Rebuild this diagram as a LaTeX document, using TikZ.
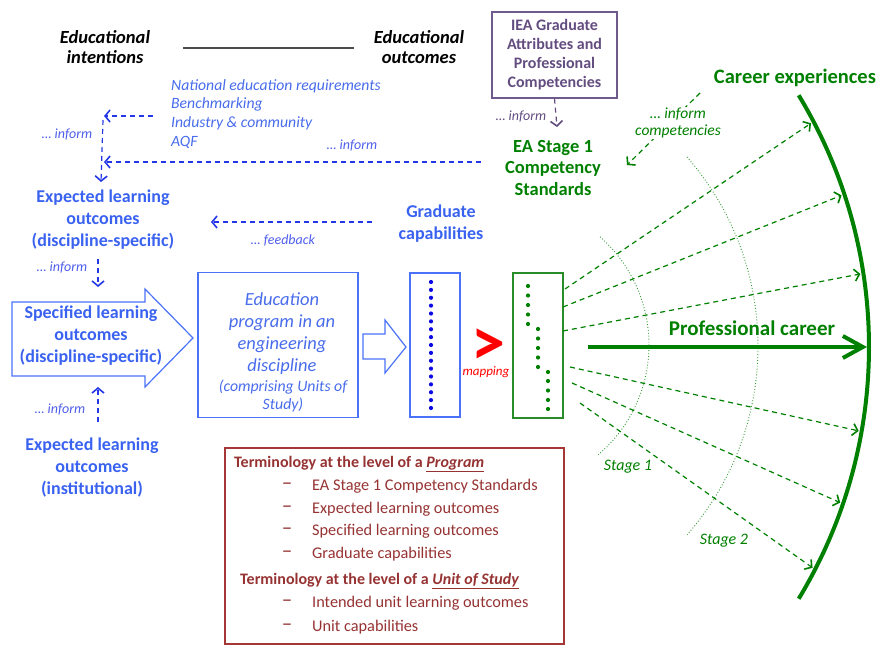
\documentclass[tikz,border=0pt]{standalone}
\usepackage{fontspec}
\setmainfont{Carlito}
\usetikzlibrary{arrows.meta}
\definecolor{tblue}{RGB}{58,98,240}
\definecolor{ablue}{RGB}{35,55,230}
\definecolor{lblue}{RGB}{72,108,235}
\definecolor{boxblue}{RGB}{75,115,250}
\definecolor{dotblue}{RGB}{10,10,225}
\definecolor{mgreen}{RGB}{0,128,0}
\definecolor{gbox}{RGB}{40,140,40}
\definecolor{ptext}{RGB}{98,76,128}
\definecolor{pbord}{RGB}{110,90,140}
\definecolor{tred}{RGB}{150,50,50}
\definecolor{tredb}{RGB}{165,55,55}
\newcommand\myfs[2]{\fontsize{#1}{#2}\selectfont}
\begin{document}
\begin{tikzpicture}[x=1pt,y=-1pt,
  hdr/.style={align=center,inner sep=0,font=\myfs{18.5}{20}\bfseries\itshape},
  btitle/.style={align=center,inner sep=0,text=tblue,font=\myfs{18}{22}\bfseries},
  blist/.style={anchor=west,inner sep=0,text=lblue,font=\myfs{15.7}{18}\itshape},
  binf/.style={inner sep=0,text=ablue!80!white,font=\myfs{14}{15}\itshape},
  bdash/.style={draw=ablue,line width=1.2pt,dash pattern=on 5pt off 4pt,-{Straight Barb[length=5pt,width=12pt,line width=1.6pt]}},
  gtitle/.style={align=center,inner sep=0,text=mgreen,font=\myfs{18.5}{21.5}\bfseries},
  ginf/.style={align=center,inner sep=0,text=mgreen,font=\myfs{15.5}{17}\itshape},
  gdash/.style={draw=mgreen,line width=1.2pt,dash pattern=on 5pt off 4pt,-{Straight Barb[length=5pt,width=12pt,line width=1.6pt]}},
  gdot/.style={draw=mgreen!80!white,line width=0.9pt,dotted},
  bshape/.style={draw=boxblue,line width=1.2pt,fill=white},
  termh/.style={anchor=west,inner sep=0,text=tred,font=\myfs{16}{18}\bfseries},
  termi/.style={anchor=west,inner sep=0,text=tred,font=\myfs{16.3}{18}},
  termd/.style={inner sep=0,text=tred,font=\myfs{21}{18}}
]
\useasboundingbox (0,0) rectangle (891,647);

% ---------- headers
\node[hdr] (ei) at (105,47) {Educational\\intentions};
\node[hdr] (eo) at (419,47) {Educational\\outcomes};
\coordinate (hl1) at (183,48);
\coordinate (hl2) at (354,48);
\draw[line width=1.5pt,draw=black!70] (hl1) -- (hl2);

% ---------- IEA box
\node[draw=pbord,line width=1.2pt,minimum width=125,minimum height=86,align=center,inner sep=0,
      text=ptext,font=\myfs{16}{19}\bfseries] (iea) at (554.5,55) {IEA Graduate\\Attributes and\\Professional\\Competencies};
\node[inner sep=0,text=ptext,font=\myfs{14}{15}\itshape] (pinf) at (521,117) {… inform};
\coordinate (pa) at (557,127);
\draw[draw=ptext,line width=1.2pt,dash pattern=on 5pt off 4pt,-{Straight Barb[length=5pt,width=12pt,line width=1.6pt]}] (iea.south) -- (pa);

% ---------- EA stage 1
\node[gtitle] (ea) at (553,168) {EA Stage 1\\Competency\\Standards};
\node[gtitle,font=\myfs{20.5}{22}\bfseries] (car) at (795,78) {Career experiences};

% inform competencies
\coordinate (ic1) at (700,93);
\coordinate (ic2) at (627,165);
\draw[gdash] (ic1) -- (ic2);
\node[ginf,fill=white,inner sep=1pt] (ic) at (678,123) {… inform\\competencies};

% ---------- blue list
\node[blist] (nat) at (171,86) {National education requirements};
\node[blist] (ben) at (171,104) {Benchmarking};
\node[blist] (ind) at (171,123) {Industry \& community};
\node[blist] (aqf) at (171,142) {AQF};

\coordinate (b1) at (153,116);
\coordinate (b2) at (104,116);
\coordinate (b2a) at (103,120);
\coordinate (b3) at (101,182);
\coordinate (b4) at (481,162);
\coordinate (b5) at (104,162);
\draw[bdash] (b1) -- (b2);
\draw[bdash] (b2a) -- (b3);
\draw[bdash] (b4) -- (b5);
\node[binf] (inf1) at (67,135) {… inform};
\node[binf] (inf2) at (352,146) {… inform};

% ---------- expected (discipline)
\node[btitle] (eld) at (103,220) {Expected learning\\outcomes\\(discipline-specific)};
\coordinate (d1) at (98,259);
\coordinate (d2) at (98,287);
\draw[bdash] (d1) -- (d2);
\node[binf] (inf3) at (62,268) {… inform};

% feedback
\coordinate (f1) at (372,222);
\coordinate (f2) at (211,222);
\draw[bdash] (f1) -- (f2);
\node[binf] (fb) at (283,240) {… feedback};
\node[btitle] (gcap) at (441,224) {Graduate\\capabilities};

% ---------- specified arrow
\draw[bshape] (12,302) -- (145,302) -- (145,289) -- (193,338) -- (145,387) -- (145,376) -- (12,376) -- cycle;
\node[btitle] (slo) at (91,336) {Specified learning\\outcomes\\(discipline-specific)};

% ---------- education program
\node[draw=boxblue,line width=1.2pt,minimum width=160,minimum height=145,inner sep=0] (ep) at (278,345) {};
\node[inner sep=0,align=center,text=lblue,font=\myfs{18.5}{22}\itshape] (ept1) at (282,334) {Education\\program in an\\engineering\\discipline};
\node[inner sep=0,align=center,text=lblue,font=\myfs{15.8}{18}\itshape] (ept2) at (283,396) {(comprising Units of\\Study)};

% small arrow
\draw[bshape] (363,334) -- (385,334) -- (385,320) -- (406,347) -- (385,373) -- (385,359) -- (363,359) -- cycle;

% ---------- blue column
\node[draw=boxblue,line width=1.2pt,minimum width=50,minimum height=144,inner sep=0] (bcol) at (435,345) {};
\foreach \i in {0,...,16} \fill[dotblue] (431,282+\i*7.875) circle (2.1pt);

% mapping
\node[inner sep=0,text=red,font=\myfs{68}{68}\bfseries] (gt) at (488,347) {>};
\node[inner sep=0,text=red,font=\myfs{13}{15}\itshape] (map) at (486,372) {mapping};

% ---------- green column
\node[draw=gbox,line width=1.2pt,minimum width=50,minimum height=145,inner sep=0] (gcol) at (538,345.5) {};
\foreach \y in {286,295.5,305,314.5,324} \fill[mgreen] (528,\y) circle (2.1pt);
\foreach \y in {329,338.5,348,357.5,367} \fill[mgreen] (538,\y) circle (2.1pt);
\foreach \y in {372,381,390.5,400,409} \fill[mgreen] (548,\y) circle (2.1pt);

% ---------- arcs
\coordinate (cbig) at (383,347);
\coordinate (cs1) at (505,345);
\coordinate (cs2) at (471,346);
\draw[gdot] (cs1) ++(48.7:144pt) arc[start angle=48.7,end angle=-49.6,radius=144pt];
\draw[gdot] (cs2) ++(41.2:287pt) arc[start angle=41.2,end angle=-41.1,radius=287pt];
\draw[mgreen,line width=4pt] (cbig) ++(31.2:486pt) arc[start angle=31.2,end angle=-31.2,radius=486pt];

% arrow end points on the big arc
\path (cbig) ++(27.6:483pt) coordinate (t1);
\path (cbig) ++(18.3:483pt) coordinate (t2);
\path (cbig) ++(8.7:483pt) coordinate (t3);
\path (cbig) ++(-10.0:483pt) coordinate (t4);
\path (cbig) ++(-18.8:483pt) coordinate (t5);
\path (cbig) ++(-27.2:483pt) coordinate (t6);
\coordinate (s1) at (565,289);
\coordinate (s2) at (563,307);
\coordinate (s3) at (563,331);
\coordinate (s4) at (570,367);
\coordinate (s5) at (572,383);
\coordinate (s6) at (580,403);
\foreach \k in {1,...,6} \draw[gdash] (s\k) -- (t\k);

% professional career
\node[inner sep=0,text=mgreen,font=\myfs{21}{22}\bfseries] (pc) at (752,328) {Professional career};
\coordinate (pc1) at (588,347);
\path (cbig) ++(0:484pt) coordinate (pc2);
\draw[mgreen,line width=4pt,-{Straight Barb[length=20pt,width=22pt,line width=4pt]}] (pc1) -- (pc2);

\node[inner sep=0,text=mgreen,font=\myfs{16}{17}\itshape] (st1) at (628,467) {Stage 1};
\node[inner sep=0,text=mgreen,font=\myfs{16}{17}\itshape] (st2) at (724,541) {Stage 2};

% ---------- institutional
\coordinate (u1) at (98,422);
\coordinate (u2) at (98,387);
\draw[bdash] (u1) -- (u2);
\node[binf] (inf4) at (60,410) {… inform};
\node[btitle] (eli) at (92,468) {Expected learning\\outcomes\\(institutional)};

% ---------- terminology box
\node[draw=tredb,line width=1.2pt,minimum width=339,minimum height=196,inner sep=0] (term) at (394.5,546) {};
\node[termh] (th1) at (234,464) {Terminology at the level of a \underline{\itshape Program}};
\node[termd] (d1a) at (287,486) {–};
\node[termd] (d1b) at (287,509) {–};
\node[termd] (d1c) at (287,531) {–};
\node[termd] (d1d) at (287,554) {–};
\node[termi] (i1a) at (312,486) {EA Stage 1 Competency Standards};
\node[termi] (i1b) at (312,509) {Expected learning outcomes};
\node[termi] (i1c) at (312,531) {Specified learning outcomes};
\node[termi] (i1d) at (312,554) {Graduate capabilities};
\node[termh] (th2) at (240,581) {Terminology at the level of a \underline{\itshape Unit of Study}};
\node[termd] (d2a) at (287,603) {–};
\node[termd] (d2b) at (287,627) {–};
\node[termi] (i2a) at (312,603) {Intended unit learning outcomes};
\node[termi] (i2b) at (312,627) {Unit capabilities};
\end{tikzpicture}
\end{document}
